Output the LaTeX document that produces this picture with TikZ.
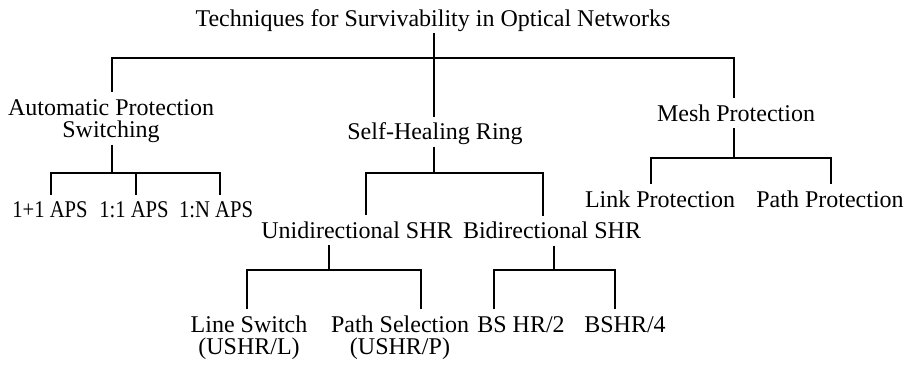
\documentclass[tikz,border=0pt]{standalone}
\usepackage{fontspec}
\setmainfont{Liberation Serif}
\newfontfamily\narrowserif[FakeStretch=0.86]{Liberation Serif}
\begin{document}
\begin{tikzpicture}[x=1pt,y=-1pt,
  lbl/.style={font=\fontsize{24}{22.5}\selectfont, inner sep=0pt, outer xsep=0pt, outer ysep=7pt, text height=16pt, text depth=0pt, anchor=base, align=center},
  lbl2/.style={lbl, text height=38.5pt},
  nlbl/.style={lbl, font=\fontsize{24}{22.5}\selectfont\narrowserif},
  edge/.style={line width=1.5pt, line join=miter}]
\useasboundingbox (0,0) rectangle (910,364);
% nodes
\node[lbl] (title) at (433,26) {Techniques for Survivability in Optical Networks};
\node[lbl2] (aps) at (111,137.5) {Automatic Protection\\Switching};
\node[lbl] (shr) at (435,139.5) {Self-Healing Ring};
\node[lbl] (mesh) at (736,121) {Mesh Protection};
\node[nlbl] (aps1) at (50,217.5) {1+1 APS};
\node[nlbl] (aps2) at (134,217.5) {1:1 APS};
\node[nlbl] (apsn) at (216,217.5) {1:N APS};
\node[lbl] (link) at (660,207) {Link Protection};
\node[lbl] (pathp) at (830,207) {Path Protection};
\node[lbl] (uni) at (357,238) {Unidirectional SHR};
\node[lbl] (bi) at (552,238.5) {Bidirectional SHR};
\node[lbl2] (ls) at (249,354.5) {Line Switch\\(USHR/L)};
\node[lbl2] (ps) at (400,354.5) {Path Selection\\(USHR/P)};
\node[lbl] (bs2) at (521,332) {BS HR/2};
\node[lbl] (bs4) at (625,332) {BSHR/4};
% junction coordinates
\coordinate (j0) at (434,58);
\coordinate (tA) at (112,58);
\coordinate (tM) at (734,58);
\coordinate (jA) at (112,173);
\coordinate (a1) at (51,173);
\coordinate (a2) at (136,173);
\coordinate (a3) at (220,173);
\coordinate (jS) at (434,173);
\coordinate (s1) at (366,173);
\coordinate (s2) at (543,173);
\coordinate (jM) at (734,158);
\coordinate (m1) at (651,158);
\coordinate (m2) at (831,158);
\coordinate (jU) at (329,270);
\coordinate (u1) at (247,270);
\coordinate (u2) at (421,270);
\coordinate (jB) at (554,270);
\coordinate (b1) at (494,270);
\coordinate (b2) at (615,270);
% connectors
\draw[edge] (title.south -| j0) -- (j0) -- (shr.north -| j0);
\draw[edge] (aps.north -| tA) -- (tA) -- (tM) -- (mesh.north -| tM);
\draw[edge] (aps.south -| jA) -- (jA);
\draw[edge] (aps1.north -| a1) -- (a1) -- (a3) -- (apsn.north -| a3);
\draw[edge] (a2) -- (aps2.north -| a2);
\draw[edge] (shr.south -| jS) -- (jS);
\draw[edge] (uni.north -| s1) -- (s1) -- (s2) -- (bi.north -| s2);
\draw[edge] (mesh.south -| jM) -- (jM);
\draw[edge] (link.north -| m1) -- (m1) -- (m2) -- (pathp.north -| m2);
\draw[edge] (uni.south -| jU) -- (jU);
\draw[edge] (ls.north -| u1) -- (u1) -- (u2) -- (ps.north -| u2);
\draw[edge] (bi.south -| jB) -- (jB);
\draw[edge] (bs2.north -| b1) -- (b1) -- (b2) -- (bs4.north -| b2);
\end{tikzpicture}
\end{document}
